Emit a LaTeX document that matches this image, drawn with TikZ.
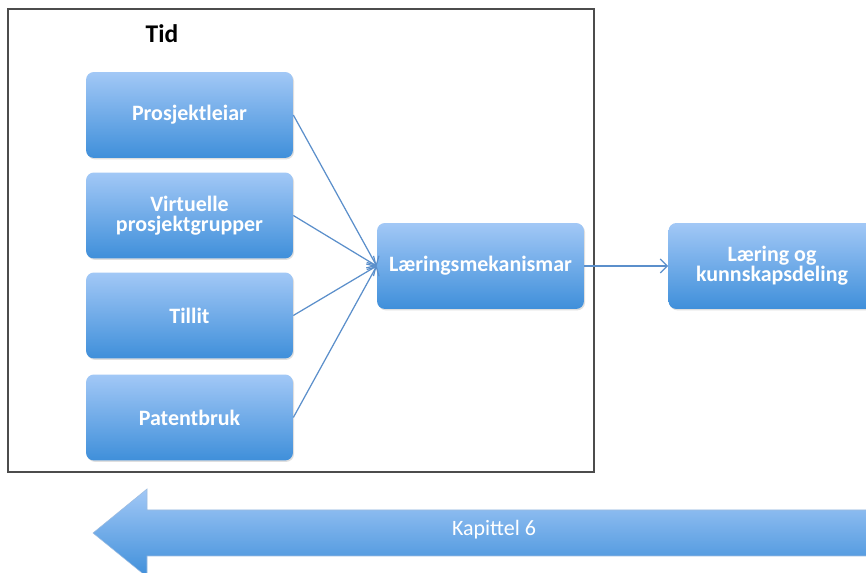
\documentclass[tikz,border=0pt]{standalone}
\usepackage{fontspec}
\setmainfont{Carlito}
\usetikzlibrary{arrows.meta,shadows}
\definecolor{boxtop}{HTML}{A2C8F6}
\definecolor{boxbot}{HTML}{3F8FDA}
\definecolor{pil}{HTML}{5B8FCB}
\tikzset{
 boks/.style={shape=rectangle,rounded corners=4.5pt,minimum width=4.14cm,minimum height=1.72cm,
  top color=boxtop,bottom color=boxbot,draw=none,text=white,align=center,
  font=\fontsize{12.5}{11.2}\selectfont\bfseries,
  drop shadow={opacity=0.25,shadow xshift=0.6pt,shadow yshift=-0.8pt}},
 pilstrek/.style={draw=pil,line width=0.7pt,-{Straight Barb[length=4pt,width=8pt]}}
}
\begin{document}
\begin{tikzpicture}[x=0.02cm,y=-0.02cm]
 \useasboundingbox (0,0) rectangle (866,573);
 \clip (0,0) rectangle (866,573);
 \fill[white] (0,0) rectangle (866,573);
 \draw[draw=black!70,line width=0.8pt] (8,9) rectangle (594,472);
 \node (tid) at (162,34) [font=\fontsize{14.5}{16}\selectfont\bfseries] {Tid};
 \node (boks 1) at (189.5,115) [boks] {Prosjektleiar};
 \node (boks 2) at (189.5,215.5) [boks] {Virtuelle\\prosjektgrupper};
 \node (boks 3) at (189.5,315.5) [boks] {Tillit};
 \node (boks 4) at (189.5,417.5) [boks] {Patentbruk};
 \node (mekanisme) at (480.5,266) [boks] {Læringsmekanismar};
 \node (deling) at (772,266) [boks] {Læring og\\kunnskapsdeling};
 \draw[pilstrek] (boks 1.east) -- (mekanisme.west);
 \draw[pilstrek] (boks 2.east) -- (mekanisme.west);
 \draw[pilstrek] (boks 3.east) -- (mekanisme.west);
 \draw[pilstrek] (boks 4.east) -- (mekanisme.west);
 \draw[pilstrek] (mekanisme.east) -- (deling.west);
 % kapittelpil
 \shade[top color=boxtop,bottom color=boxbot,draw=pil!60,line width=0.3pt]
  (93,533) -- (147,489) -- (147,510) -- (900,510) -- (900,556) -- (147,556) -- (147,577) -- cycle;
 \node (kapittel) at (494,530) [text=white,font=\fontsize{12.5}{14}\selectfont] {Kapittel 6};
\end{tikzpicture}
\end{document}
